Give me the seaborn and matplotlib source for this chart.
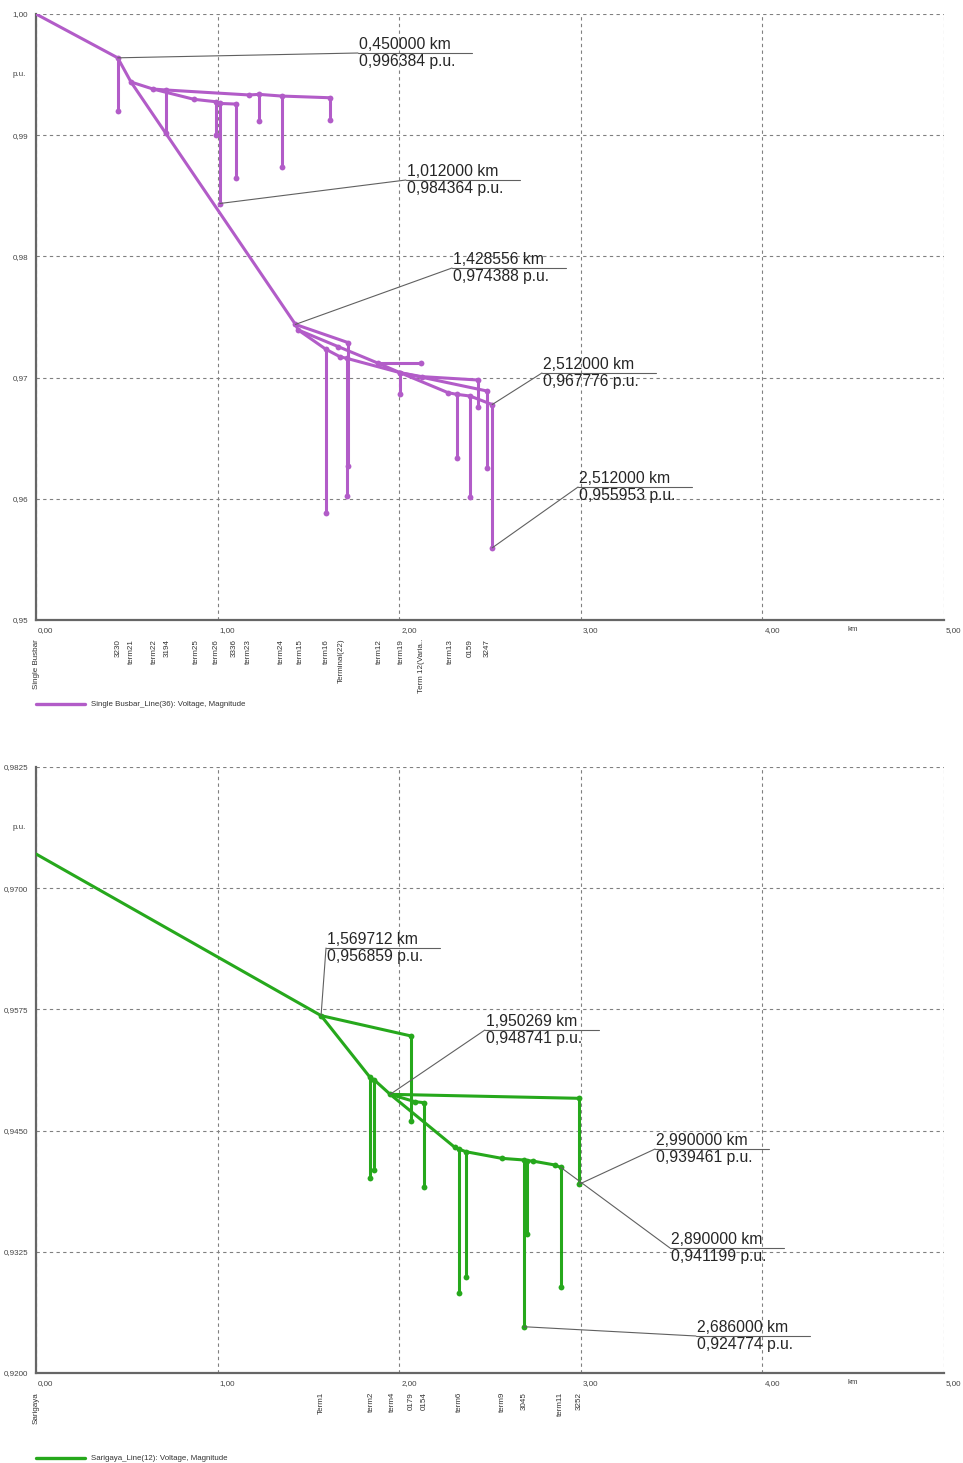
import matplotlib
matplotlib.use("Agg")
import matplotlib.pyplot as plt
import matplotlib.transforms as mtransforms
from matplotlib.lines import Line2D
import numpy as np
import pandas as pd
import seaborn as sns

# ---------------------------------------------------------------
# Single Busbar feeder (Line 36): voltage profile along the feeder
# each branch: (distance in km, voltage in p.u.)
# ---------------------------------------------------------------
busbar_branches = [
    ([0.0, 0.45, 0.523, 1.428556], [1.0, 0.996384, 0.99439, 0.974388]),
    ([0.45, 0.45], [0.996384, 0.9920]),
    ([0.523, 0.644, 0.716, 1.173, 1.228, 1.353, 1.619],
     [0.99439, 0.99381, 0.99373, 0.99332, 0.99337, 0.99323, 0.99309]),
    ([0.644, 0.870, 0.991, 1.012, 1.101],
     [0.99381, 0.99296, 0.99276, 0.99262, 0.99257]),
    ([0.716, 0.716], [0.99373, 0.99021]),
    ([0.991, 0.991], [0.99276, 0.99005]),
    ([1.012, 1.012], [0.99262, 0.984364]),
    ([1.101, 1.101], [0.99257, 0.98645]),
    ([1.228, 1.228], [0.99337, 0.99120]),
    ([1.353, 1.353], [0.99323, 0.98738]),
    ([1.619, 1.619], [0.99309, 0.99125]),
    ([1.428556, 1.720], [0.974388, 0.97288]),
    ([1.720, 1.720], [0.97288, 0.96273]),
    ([1.428556, 1.444, 1.597, 1.674, 1.711, 2.004],
     [0.974388, 0.97393, 0.97233, 0.97172, 0.97159, 0.97041]),
    ([1.444, 1.665, 1.885, 2.004], [0.97393, 0.97255, 0.97118, 0.97041]),
    ([1.885, 2.118], [0.97118, 0.97118]),
    ([1.597, 1.597], [0.97233, 0.95885]),
    ([1.711, 1.711], [0.97159, 0.96026]),
    ([2.004, 2.004], [0.97041, 0.96862]),
    ([2.004, 2.124, 2.436], [0.97041, 0.97008, 0.96980]),
    ([2.436, 2.436], [0.96980, 0.96755]),
    ([2.004, 2.270, 2.317, 2.390, 2.512],
     [0.97041, 0.96875, 0.96862, 0.96848, 0.967776]),
    ([2.317, 2.317], [0.96862, 0.96339]),
    ([2.390, 2.390], [0.96848, 0.96012]),
    ([2.512, 2.512], [0.967776, 0.955953]),
    ([2.004, 2.485], [0.97041, 0.96889]),
    ([2.485, 2.485], [0.96889, 0.96252]),
]
busbar_node_km = [0.0, 0.45, 0.527, 0.650, 0.720, 0.881, 0.991, 1.090, 1.169,
                  1.349, 1.454, 1.601, 1.679, 1.889, 2.010, 2.124, 2.280,
                  2.390, 2.487]
busbar_node_names = ["Single Busbar", "3230", "term21", "term22", "3194",
                     "term25", "term26", "3336", "term23", "term24", "term15",
                     "term16", "Terminal(22)", "term12", "term19",
                     "Term 12(Varia..", "term13", "0159", "3247"]
busbar_callout_km = [0.45, 1.012, 1.428556, 2.512, 2.512]
busbar_callout_pu = [0.996384, 0.984364, 0.974388, 0.967776, 0.955953]
busbar_yticks = [0.95, 0.96, 0.97, 0.98, 0.99, 1.00]
busbar_ylabels = ["0,95", "0,96", "0,97", "0,98", "0,99", "1,00"]
busbar_legend = "Single Busbar_Line(36): Voltage, Magnitude"

# ---------------------------------------------------------------
# Sarigaya feeder (Line 12)
# ---------------------------------------------------------------
sarigaya_branches = [
    ([0.0, 1.569712, 1.839, 1.863, 1.950269],
     [0.97353, 0.956859, 0.95050, 0.95022, 0.948741]),
    ([1.569712, 2.065], [0.956859, 0.95476]),
    ([2.065, 2.065], [0.95476, 0.94599]),
    ([1.839, 1.839], [0.95050, 0.94008]),
    ([1.863, 1.863], [0.95022, 0.94094]),
    ([1.950269, 2.990], [0.948741, 0.94833]),
    ([2.990, 2.990], [0.94833, 0.939461]),
    ([1.950269, 2.087, 2.137], [0.948741, 0.94798, 0.94788]),
    ([2.137, 2.137], [0.94788, 0.93921]),
    ([1.950269, 2.307, 2.329, 2.368, 2.564, 2.686, 2.702, 2.735, 2.858, 2.890],
     [0.948741, 0.94326, 0.94309, 0.94282, 0.94214, 0.94197, 0.94190,
      0.94186, 0.94145, 0.941199]),
    ([2.329, 2.329], [0.94309, 0.92822]),
    ([2.368, 2.368], [0.94282, 0.92993]),
    ([2.686, 2.686], [0.94197, 0.924774]),
    ([2.702, 2.702], [0.94190, 0.93434]),
    ([2.890, 2.890], [0.941199, 0.92890]),
]
sarigaya_node_km = [0.0, 1.570, 1.845, 1.960, 2.065, 2.137, 2.330, 2.570,
                    2.686, 2.890, 2.990]
sarigaya_node_names = ["Sarigaya", "Term1", "term2", "term4", "0179", "0154",
                       "term6", "term9", "3045", "term11", "3252"]
sarigaya_callout_km = [1.569712, 1.950269, 2.990, 2.890, 2.686]
sarigaya_callout_pu = [0.956859, 0.948741, 0.939461, 0.941199, 0.924774]
sarigaya_yticks = [0.92, 0.9325, 0.945, 0.9575, 0.97, 0.9825]
sarigaya_ylabels = ["0,9200", "0,9325", "0,9450", "0,9575", "0,9700", "0,9825"]
sarigaya_legend = "Sarigaya_Line(12): Voltage, Magnitude"

x_ticks = [0, 1, 2, 3, 4, 5]
x_labels = ["0,00", "1,00", "2,00", "3,00", "4,00", "5,00"]

PURPLE = "#b25cc8"
GREEN = "#26a81c"

sns.set_style("white")
plt.rcParams["font.family"] = ["Liberation Sans", "DejaVu Sans"]

fig = plt.figure(figsize=(9.63, 14.63), dpi=100)
ax_top = fig.add_axes([36 / 963, 1 - 620 / 1463, 908 / 963, 606 / 1463])
ax_bot = fig.add_axes([36 / 963, 1 - 1373 / 1463, 908 / 963, 606 / 1463])


def fmt(v):
    return f"{v:.6f}".replace(".", ",")


def draw_panel(ax, branches, color, yticks, ylabels, node_km, node_names,
               callout_km, callout_pu, anchors):
    rows = []
    for i, (xs, ys) in enumerate(branches):
        for x, y in zip(xs, ys):
            rows.append((i, x, y))
    df = pd.DataFrame(rows, columns=["branch", "km", "pu"])
    # bus dots on every node after the branch origin
    sns.lineplot(data=df, x="km", y="pu", units="branch", estimator=None,
                 sort=False, color=color, linewidth=2.2, marker="o",
                 markersize=4.2, markeredgewidth=0,
                 markevery=slice(1, None), ax=ax, legend=False, zorder=3)

    ymin, ymax = yticks[0], yticks[-1]
    ax.set_xlim(0, 5)
    ax.set_ylim(ymin, ymax)
    ax.set_xlabel("")
    ax.set_ylabel("")

    # major grid
    ax.set_xticks(x_ticks)
    ax.set_yticks(yticks)
    ax.grid(True, which="major", linestyle=(0, (3, 3)), color="#808080",
            linewidth=0.8, zorder=1)
    ax.set_axisbelow(True)
    half = (yticks[1] - yticks[0]) / 2
    ax.set_yticks([t + half for t in yticks[:-1]], minor=True)
    ax.set_xticks([0.5, 1.5, 2.5, 3.5, 4.5], minor=True)

    for s in ("top", "right"):
        ax.spines[s].set_visible(False)
    for s in ("left", "bottom"):
        ax.spines[s].set_color("#666666")
        ax.spines[s].set_linewidth(1.6)

    ax.tick_params(axis="y", which="both", direction="out", length=3,
                   width=0.8, color="#666666", labelsize=5.8,
                   labelcolor="#444444", pad=2.6)
    ax.tick_params(axis="x", which="both", direction="in", length=4,
                   width=0.8, color="#666666", labelsize=5.8,
                   labelcolor="#444444", pad=5)
    ax.set_yticklabels(ylabels)
    ax.set_xticklabels(x_labels)
    shift = mtransforms.ScaledTranslation(1.5 / 72, 0, fig.dpi_scale_trans)
    for lab in ax.get_xticklabels():
        lab.set_horizontalalignment("left")
        lab.set_transform(lab.get_transform() + shift)

    # unit labels in place of the half-step labels
    yt = mtransforms.blended_transform_factory(ax.transAxes, ax.transData)
    ax.text(-0.011, yticks[-1] - half, "p.u.", transform=yt, ha="right",
            va="center", fontsize=5.8, color="#444444")
    xt = mtransforms.blended_transform_factory(ax.transData, ax.transAxes)
    ax.text(4.5, -0.0165, "km", transform=xt, ha="center", va="center",
            fontsize=5.8, color="#444444")

    # bus names along the distance axis
    for km, name in zip(node_km, node_names):
        ax.text(km, -0.031, name, transform=xt, rotation=90, ha="center",
                va="top", fontsize=5.8, color="#333333")

    # value call-outs
    for km, pu, (akm, apu) in zip(callout_km, callout_pu, anchors):
        ax.plot([km, akm], [pu, apu], color="#606060", linewidth=0.8,
                zorder=4)
        ax.plot([akm, akm + 0.63], [apu, apu], color="#606060",
                linewidth=0.8, zorder=4)
        ax.annotate(f"{fmt(km)} km", xy=(akm, apu), xytext=(0.5, 0.5),
                    textcoords="offset points", ha="left", va="bottom",
                    fontsize=11.3, color="#262626", zorder=5)
        ax.annotate(f"{fmt(pu)} p.u.", xy=(akm, apu), xytext=(0.5, -0.5),
                    textcoords="offset points", ha="left", va="top",
                    fontsize=11.3, color="#262626", zorder=5)


draw_panel(ax_top, busbar_branches, PURPLE, busbar_yticks, busbar_ylabels,
           busbar_node_km, busbar_node_names, busbar_callout_km,
           busbar_callout_pu,
           [(1.773, 0.996782), (2.037, 0.986304), (2.291, 0.979043),
            (2.786, 0.970380), (2.985, 0.960974)])
draw_panel(ax_bot, sarigaya_branches, GREEN, sarigaya_yticks,
           sarigaya_ylabels, sarigaya_node_km, sarigaya_node_names,
           sarigaya_callout_km, sarigaya_callout_pu,
           [(1.597, 0.963833), (2.472, 0.955375), (3.409, 0.943102),
            (3.491, 0.932892), (3.634, 0.923816)])

# legends below each panel
for y_px, color, text in ((704, PURPLE, busbar_legend),
                          (1458, GREEN, sarigaya_legend)):
    yf = 1 - y_px / 1463
    fig.add_artist(Line2D([36 / 963, 85 / 963], [yf, yf], color=color,
                          linewidth=2.4, transform=fig.transFigure))
    fig.text(91 / 963, yf, text, ha="left", va="center", fontsize=5.7,
             color="#333333")

fig.savefig("out.png", dpi=100)
